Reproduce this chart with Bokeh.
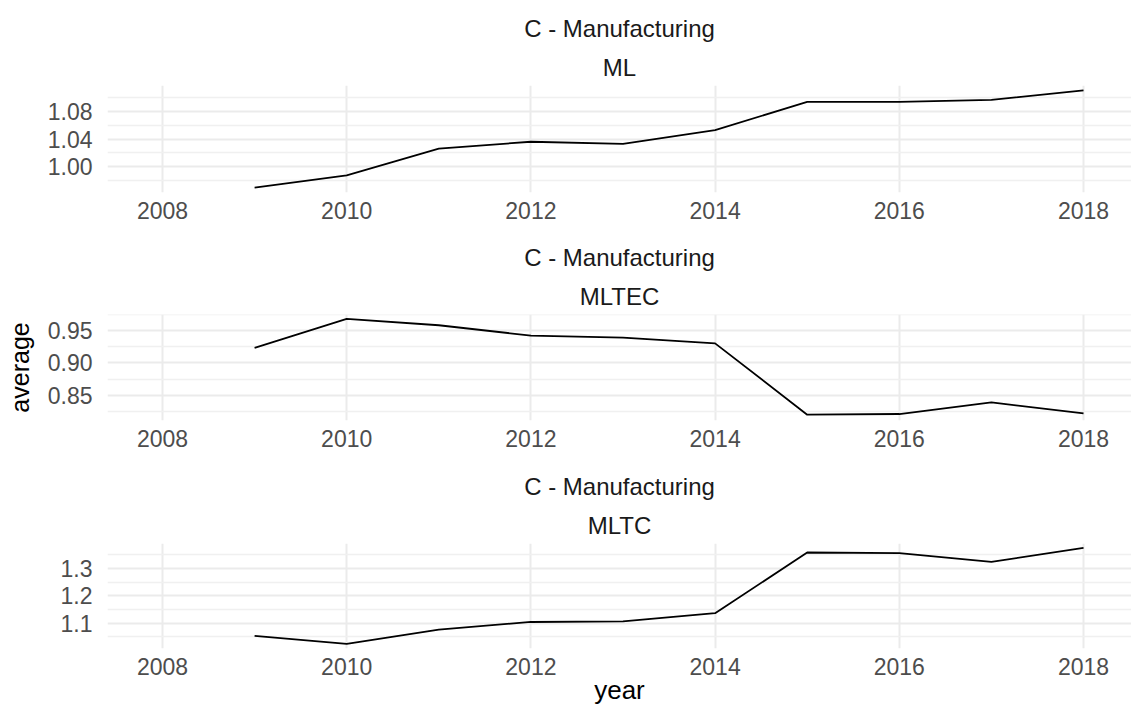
from bokeh.plotting import figure
from bokeh.models import Range1d, FixedTicker, PrintfTickFormatter, Title
from bokeh.layouts import column
from bokeh.embed import file_html
from bokeh.resources import INLINE

years = [2009, 2010, 2011, 2012, 2013, 2014, 2015, 2016, 2017, 2018]
ml = [0.969, 0.987, 1.026, 1.036, 1.033, 1.053, 1.094, 1.094, 1.097, 1.111]
mltec = [0.923, 0.968, 0.958, 0.942, 0.939, 0.930, 0.820, 0.821, 0.839, 0.822]
mltc = [1.053, 1.024, 1.076, 1.104, 1.106, 1.136, 1.358, 1.356, 1.324, 1.375]

x_ticks = [2008, 2010, 2012, 2014, 2016, 2018]
group_title = "C - Manufacturing"
panel_names = ["ML", "MLTEC", "MLTC"]
y_major = [[1.00, 1.04, 1.08], [0.85, 0.90, 0.95], [1.1, 1.2, 1.3]]
y_minor = [[0.98, 1.02, 1.06, 1.10], [0.825, 0.875, 0.925, 0.975], [1.05, 1.15, 1.25, 1.35]]
y_fmt = ["%.2f", "%.2f", "%.1f"]
y_ranges = [(0.962, 1.118), (0.811, 0.9746), (1.007, 1.391)]
series = [ml, mltec, mltc]

FONT = "Liberation Sans"
W = 1131
heights = [232, 230, 245]
tops = [85, 82, 81]
bottoms = [40, 42, 59]

figs = []
for i in range(3):
    p = figure(width=W, height=heights[i], output_backend="svg", toolbar_location=None,
               x_range=Range1d(2007.403, 2018.521), y_range=Range1d(*y_ranges[i]),
               min_border_left=107, min_border_right=0,
               min_border_top=tops[i], min_border_bottom=bottoms[i])
    p.outline_line_color = None
    p.background_fill_color = "white"
    p.border_fill_color = "white"

    p.add_layout(Title(text=panel_names[i], align="center", text_font=FONT,
                       text_font_size="24px", text_font_style="normal",
                       text_color="#1a1a1a", standoff=9), "above")
    p.add_layout(Title(text=group_title, align="center", text_font=FONT,
                       text_font_size="24px", text_font_style="normal",
                       text_color="#1a1a1a", standoff=11), "above")

    p.line(years, series[i], line_color="black", line_width=1.8)

    p.xaxis.ticker = FixedTicker(ticks=x_ticks, minor_ticks=[])
    p.yaxis.ticker = FixedTicker(ticks=y_major[i], minor_ticks=y_minor[i])
    p.yaxis.formatter = PrintfTickFormatter(format=y_fmt[i])
    p.xaxis.formatter = PrintfTickFormatter(format="%d")

    for ax in (p.xaxis, p.yaxis):
        ax.axis_line_color = None
        ax.major_tick_line_color = None
        ax.minor_tick_line_color = None
        ax.major_tick_out = 0
        ax.major_tick_in = 0
        ax.minor_tick_out = 0
        ax.minor_tick_in = 0
        ax.major_label_text_font = FONT
        ax.major_label_text_font_size = "23px"
        ax.major_label_text_color = "#4d4d4d"
    p.yaxis.major_label_standoff = 15
    p.xaxis.major_label_standoff = 9

    p.xgrid.grid_line_color = "#ebebeb"
    p.xgrid.grid_line_width = 2
    p.ygrid.grid_line_color = "#ebebeb"
    p.ygrid.grid_line_width = 2
    p.ygrid.minor_grid_line_color = "#f0f0f0"
    p.ygrid.minor_grid_line_width = 1.5

    figs.append(p)

figs[1].yaxis.axis_label = "average"
figs[1].yaxis.axis_label_text_font = FONT
figs[1].yaxis.axis_label_text_font_size = "25px"
figs[1].yaxis.axis_label_text_font_style = "normal"
figs[1].yaxis.axis_label_text_color = "black"
figs[1].yaxis.axis_label_standoff = 11

figs[2].xaxis.axis_label = "year"
figs[2].xaxis.axis_label_text_font = FONT
figs[2].xaxis.axis_label_text_font_size = "26px"
figs[2].xaxis.axis_label_text_font_style = "normal"
figs[2].xaxis.axis_label_text_color = "black"
figs[2].xaxis.axis_label_standoff = -3

layout = column(*figs, spacing=0)
open("out.html", "w").write(file_html(layout, INLINE))
